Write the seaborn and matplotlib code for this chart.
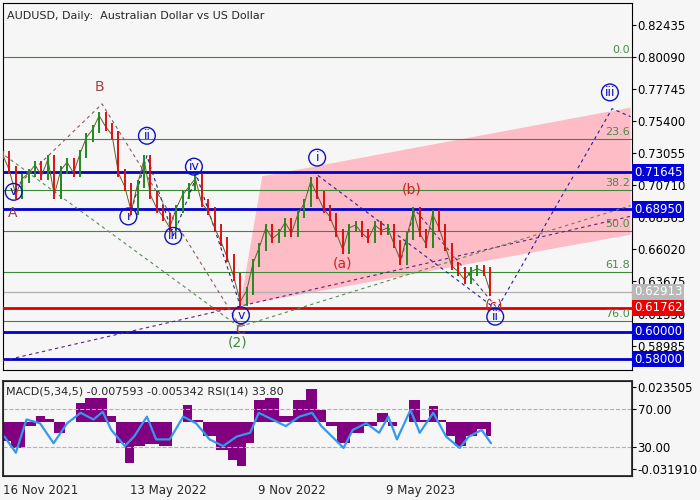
import matplotlib
matplotlib.use("Agg")
import matplotlib.pyplot as plt
import seaborn as sns
import numpy as np
import pandas as pd
from matplotlib.patches import Polygon

sns.set_theme(style="white")
plt.rcParams['font.family'] = ['DejaVu Sans']

# ---------------- data ----------------
price_days = list(range(0, 685, 9))
closes = [0.729,0.718,0.700,0.712,0.716,0.722,0.714,0.726,0.700,0.718,0.724,0.716,0.730,0.742,
          0.748,0.758,0.750,0.744,0.716,0.706,0.688,0.708,0.726,0.700,0.690,0.684,0.676,0.690,
          0.700,0.706,0.712,0.694,0.688,0.676,0.666,0.654,0.640,0.622,0.630,0.650,0.662,0.676,
          0.668,0.672,0.680,0.672,0.686,0.694,0.710,0.700,0.690,0.684,0.672,0.660,0.676,0.678,
          0.672,0.668,0.678,0.674,0.676,0.664,0.652,0.670,0.688,0.672,0.664,0.686,0.676,0.662,
          0.648,0.644,0.638,0.644,0.646,0.644,0.629]

macd_days = [2,21,40,52,65,77,96,109,121,140,152,165,178,190,209,228,246,259,271,290,309,322,
             334,347,359,378,397,416,434,447,459,478,497,516,535,547,560,579,591,604,616,629,641,
             660,672,685]
macd_vals = [-0.013,-0.0176,-0.003,0.004,0.002,-0.0074,0.0,0.0128,0.016,0.016,0.004,-0.014,
             -0.0277,-0.0165,-0.015,-0.0165,0.0,0.0117,0.0016,-0.0097,-0.0187,-0.0255,-0.030,
             -0.014,0.015,0.016,0.004,0.015,0.022,0.0083,-0.003,-0.014,-0.0074,-0.003,0.006,
             -0.003,0.0,0.015,0.0016,0.0106,0.0016,-0.0097,-0.0165,-0.0097,-0.005,-0.0097]

rsi_days = [2,18,33,52,71,90,109,127,140,152,171,184,202,215,234,253,271,290,309,328,347,359,
            378,397,416,434,447,466,478,491,510,528,541,553,572,585,604,622,641,654,672,685]
rsi_vals = [41,24,59,55,34,55,66,59,67,48,31,41,62,38,38,62,55,38,31,41,45,66,59,52,62,66,52,
            38,29,48,55,45,62,38,69,45,66,41,29,41,48,34]

blue_levels = [0.71645, 0.68950, 0.60000, 0.58000]
red_level = 0.61762
gray_level = 0.62913
fib_labels = ["0.0", "23.6", "38.2", "50.0", "61.8", "76.0"]
fib_levels = [0.8009, 0.7410, 0.7040, 0.6740, 0.6440, 0.6080]
price_ticks = [0.82435,0.80090,0.77745,0.75400,0.73055,0.70710,0.68365,0.66020,0.63675,0.61330,0.58985]
date_ticks = [0, 178, 358, 537]
date_labels = ["16 Nov 2021", "13 May 2022", "9 Nov 2022", "9 May 2023"]

XMAX = 883
BG = "#f6f6f6"

fig = plt.figure(figsize=(7, 5), dpi=100, facecolor=BG)
ax = fig.add_axes([3/700, 1-370/500, 629/700, 367/500])
axm = fig.add_axes([3/700, 1-476/500, 629/700, 95/500])
for a in (ax, axm):
    a.set_facecolor(BG)
    for s in a.spines.values():
        s.set_color("black"); s.set_linewidth(0.8)

ax.set_xlim(0, XMAX)
ax.set_ylim(0.5720, 0.8404)

# pink channel
ax.add_patch(Polygon([(333, 0.6192), (364, 0.7137), (881, 0.7639), (881, 0.6710)],
                     closed=True, facecolor="#ffb6c1", edgecolor="none", alpha=0.9, zorder=1))

# fib lines
for lv, lb in zip(fib_levels, fib_labels):
    ax.axhline(lv, color="#3a8a3a", lw=0.8, zorder=2)
    ax.text(880, lv + 0.0012, lb, color="#4a8a4a", ha="right", va="bottom", fontsize=8, zorder=6)
ax.axhline(gray_level, color="#b0b0b0", lw=0.9, zorder=2)
for lv in blue_levels:
    ax.axhline(lv, color="#0000cc", lw=2, zorder=3)
ax.axhline(red_level, color="#dd0000", lw=2, zorder=3)

# dashed wave lines
def dline(pts, color, lw=0.8):
    xs, ys = zip(*pts)
    ax.plot(xs, ys, ls=(0, (3, 3)), color=color, lw=lw, zorder=4)

dline([(0, 0.5788), (881, 0.6844)], "#602080")
dline([(333, 0.6038), (881, 0.6922)], "#5a8a5a")
dline([(3, 0.7287), (333, 0.6030)], "#5a8a5a")
dline([(17, 0.7053), (139, 0.7666), (333, 0.6038)], "#8a5a5a")
dline([(178, 0.6843), (202, 0.7287), (239, 0.6704), (272, 0.7140), (333, 0.6192)], "#202080")
dline([(442, 0.7143), (693, 0.6162), (855, 0.7631), (881, 0.7573)], "#2020a0")
dline([(557, 0.6492), (578, 0.6894), (693, 0.6177)], "#603060")

# candles
sns.lineplot(x=price_days, y=closes, ax=ax, color="#6a5a2a", lw=0.7, zorder=5)
prev = closes[0]
for d, c in zip(price_days, closes):
    col = "#1f8a1f" if c >= prev else "#dd1010"
    ax.vlines(d, min(prev, c) - 0.003, max(prev, c) + 0.003, color=col, lw=1.4, zorder=5)
    prev = c

# labels
def circ(x, y, t, col="#1010c0"):
    ax.text(x, y, t, color=col, ha="center", va="center", fontsize=9, zorder=7,
            bbox=dict(boxstyle="circle,pad=0.15", fc="none", ec=col, lw=1))

circ(15, 0.7023, "v"); circ(176, 0.6843, "i"); circ(202, 0.7433, "ii")
circ(239, 0.6701, "iii"); circ(268, 0.7207, "iv"); circ(334, 0.6120, "v")
circ(441, 0.7273, "i"); circ(691, 0.6110, "ii"); circ(852, 0.7750, "iii")
ax.text(14, 0.6870, "A", color="#a04040", ha="center", va="center", fontsize=10)
ax.text(136, 0.7792, "B", color="#a04040", ha="center", va="center", fontsize=10)
ax.text(333, 0.6012, "C", color="#a04040", ha="center", va="center", fontsize=10)
ax.text(329, 0.5922, "(2)", color="#3a8a3a", ha="center", va="center", fontsize=10)
ax.text(476, 0.6498, "(a)", color="#d02020", ha="center", va="center", fontsize=10)
ax.text(573, 0.7037, "(b)", color="#d02020", ha="center", va="center", fontsize=10)
ax.text(689, 0.6192, "(c)", color="#d02020", ha="center", va="center", fontsize=10)
ax.text(5, 0.8310, "AUDUSD, Daily:  Australian Dollar vs US Dollar", fontsize=8, va="center")

ax.set_xticks([])
ax.yaxis.tick_right()
ax.set_yticks(price_ticks)
ax.set_yticklabels([f"{v:.5f}" for v in price_ticks], fontsize=8.5)
ax.tick_params(axis="y", direction="out", length=3, pad=1, colors="black", width=0.8)

def box(a, y, txt, fc, tc="white"):
    a.text(1.003, y, txt, transform=a.get_yaxis_transform(), ha="left", va="center",
           fontsize=8.5, color=tc, zorder=8,
           bbox=dict(boxstyle="square,pad=0.15", fc=fc, ec="none"))

for lv in blue_levels:
    box(ax, lv, f"{lv:.5f}", "#0000dd")
box(ax, red_level, f"{red_level:.5f}", "#ee0000")
box(ax, gray_level, f"{gray_level:.5f}", "#b8b8b8")

# ---------------- MACD / RSI ----------------
axm.set_xlim(0, XMAX)
axm.set_ylim(-0.0365, 0.0277)
axm.fill_between(macd_days, macd_vals, 0, step="mid", color="#800080", lw=0)
axr = axm.twinx()
axr.set_ylim(-0.5, 99.5)
axr.axhline(70, color="#b0b0b0", lw=0.8, ls="--")
axr.axhline(30, color="#b0b0b0", lw=0.8, ls="--")
sns.lineplot(x=rsi_days, y=rsi_vals, ax=axr, color="#3399ee", lw=1.6)
axr.set_ylabel("")
axm.yaxis.tick_right()
axm.set_yticks([0.023505, -0.031910])
axm.set_yticklabels(["0.023505", "-0.031910"], fontsize=8.5)
axr.set_yticks([70, 30])
axr.set_yticklabels(["70.00", "30.00"], fontsize=8.5)
for a in (axm, axr):
    a.tick_params(axis="y", direction="out", length=3, pad=1, width=0.8, colors="black")
axr.set_xticks([])
axm.set_xticks(date_ticks)
axm.set_xticklabels(date_labels, fontsize=8.5, ha="left")
axm.tick_params(axis="x", direction="out", length=4, pad=2, width=0.8)
axm.text(4, 0.0205, "MACD(5,34,5) -0.007593 -0.005342 RSI(14) 33.80", fontsize=8, va="center")

fig.savefig("out.png", dpi=100, facecolor=BG)
